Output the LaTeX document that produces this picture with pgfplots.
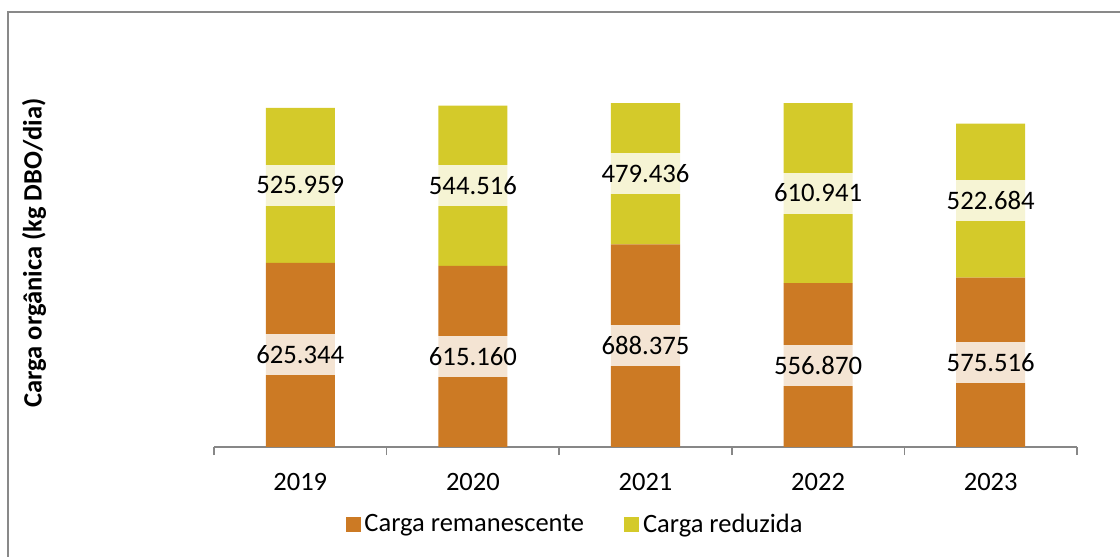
\documentclass[border=0pt]{standalone}
\usepackage{fontspec}
\setmainfont{Carlito}
\usepackage{pgfplots}
\pgfplotsset{compat=1.18}
\usepackage{pgfplotstable}
\definecolor{remc}{HTML}{CC7A24}
\definecolor{redc}{HTML}{D4CA2A}
\definecolor{framec}{HTML}{898989}
\definecolor{axisc}{HTML}{878787}
\pgfplotstableread{
x rem red
0 625.344 525.959
1 615.160 544.516
2 688.375 479.436
3 556.870 610.941
4 575.516 522.684
}\data
\begin{document}
\begin{tikzpicture}
\useasboundingbox (0,0) rectangle (560bp,278.5bp);
\draw[framec, line width=1bp] (3.75bp,0) -- (3.75bp,272.5bp) -- (560bp,272.5bp);
\pgfplotsset{common/.style={
  at={(107bp,55bp)}, anchor=south west, scale only axis,
  width=431.5bp, height=191.4bp,
  xmin=-0.5, xmax=4.5, ymin=0, ymax=1300,
}}
\begin{axis}[common, ybar stacked, bar width=0.4,
  hide y axis, axis x line*=bottom,
  axis line style={axisc, line width=0.75bp},
  xtick={0,...,4}, xticklabels={2019,2020,2021,2022,2023},
  major tick length=0pt,
  minor xtick={-0.5,0.5,1.5,2.5,3.5,4.5}, minor tick length=4bp, tick align=outside,
  minor tick style={axisc, line width=0.75bp},
  xticklabel style={font=\fontsize{13.3}{16}\selectfont, inner sep=0pt, anchor=north, yshift=-13bp},
  legend style={at={(0.4195,-0.2024)}, anchor=center, draw=none, legend columns=2,
    font=\fontsize{13.3}{16}\selectfont,
    /tikz/every even column/.append style={column sep=18bp}},
  legend image code/.code={\fill[#1] (0bp,-3.75bp) rectangle (7.5bp,3.75bp);},
]
\addplot[fill=remc, draw=none] table[x=x, y=rem] {\data};
\addlegendentry{Carga remanescente}
\addplot[fill=redc, draw=none] table[x=x, y=red] {\data};
\addlegendentry{Carga reduzida}
\end{axis}
\begin{axis}[common, hide axis,
  nodes near coords={\pgfmathprintnumber[fixed,fixed zerofill,precision=3,assume math mode=true]{\pgfplotspointmeta}},
  point meta=explicit,
  every node near coord/.append style={anchor=center, fill=white, fill opacity=0.8, text opacity=1,
    inner xsep=1bp, inner ysep=0pt, minimum height=20.5bp, font=\fontsize{13.4}{16}\selectfont, text=black},
]
\addplot[only marks, mark=none] table[x=x, y expr=\thisrow{rem}/2, meta=rem] {\data};
\addplot[only marks, mark=none] table[x=x, y expr=\thisrow{rem}+\thisrow{red}/2, meta=red] {\data};
\end{axis}
\node[rotate=90, font=\bfseries\fontsize{13.3}{16}\selectfont] at (17bp,152bp) {Carga orgânica (kg DBO/dia)};
\end{tikzpicture}
\end{document}
